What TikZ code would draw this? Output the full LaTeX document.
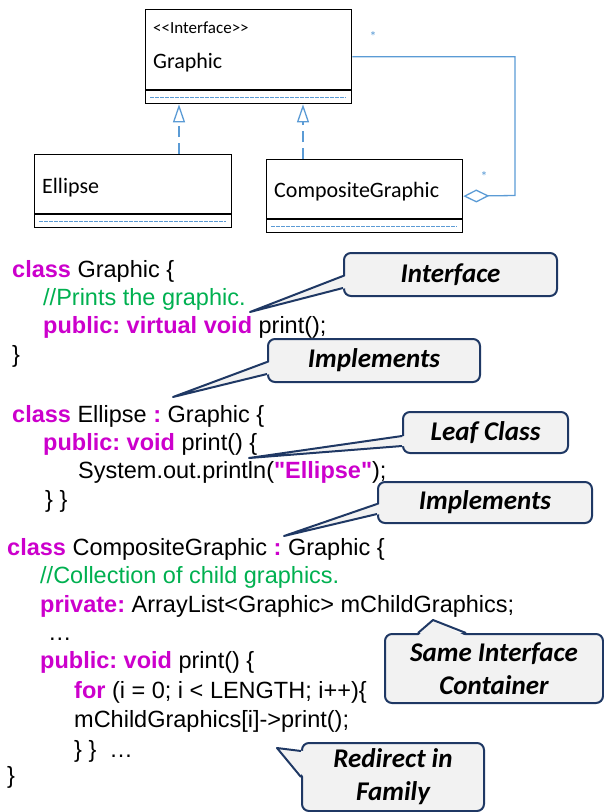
\documentclass[tikz,border=0pt]{standalone}
\usepackage{fontspec}
\setmainfont{Liberation Sans}
\newfontfamily\umlfont{Carlito}
\usetikzlibrary{arrows.meta}
\definecolor{kwc}{RGB}{204,0,204}
\definecolor{cmc}{RGB}{0,176,80}
\definecolor{umlblue}{RGB}{91,155,213}
\definecolor{coline}{RGB}{31,56,100}
\definecolor{cofill}{RGB}{242,242,242}
\newcommand{\kw}[1]{\textcolor{kwc}{\bfseries #1}}
\newcommand{\cm}[1]{\textcolor{cmc}{#1}}
\frenchspacing
\begin{document}
\begin{tikzpicture}[x=1pt,y=-1pt,
  umlbox/.style={draw=black,line width=1.3pt,inner sep=0pt,anchor=north west},
  umlsep/.style={draw=umlblue,line width=1pt,dash pattern=on 3.5pt off 1.5pt},
  umltext/.style={anchor=base west,inner sep=0pt,font=\umlfont\fontsize{22}{26}\selectfont},
  realize/.style={draw=umlblue,line width=1.3pt,dash pattern=on 11pt off 6pt,-{Triangle[open,length=18pt,width=12pt,line width=1.3pt]}},
  aggr/.style={draw=umlblue,line width=1.3pt,-{Diamond[open,length=26pt,width=13pt,line width=1.3pt]}},
  mult/.style={text=umlblue,inner sep=0pt,font=\umlfont\fontsize{14}{16}\selectfont},
  code/.style={anchor=base west,inner sep=0pt,font=\fontsize{23.5}{27}\selectfont},
  callout/.style={draw=coline,fill=cofill,line width=2pt,rounded corners=7pt,anchor=north west,inner sep=0pt,align=center,
    font=\umlfont\bfseries\itshape\fontsize{27}{33}\selectfont},
  cline/.style={draw=coline,line width=2pt,line join=round}
]
\useasboundingbox (0,0) rectangle (604,812);

% ---------- UML ----------
\node[umlbox,minimum width=206pt,minimum height=94pt] (graphicbox) at (145,9) {};
\draw[line width=1.3pt] (145,90) -- (351,90);
\draw[umlsep] (150,97) -- (346,97);
\node[umltext,font=\umlfont\fontsize{17}{20}\selectfont] (stereo) at (153,33) {<{}<Interface>{}>};
\node[umltext] (graphicname) at (153,68) {Graphic};

\node[umlbox,minimum width=197pt,minimum height=73pt] (ellipsebox) at (34,154) {};
\draw[line width=1.3pt] (34,214) -- (231,214);
\draw[umlsep] (39,221) -- (226,221);
\node[umltext] (ellipsename) at (42,193) {Ellipse};

\node[umlbox,minimum width=196pt,minimum height=73pt] (compbox) at (266,159) {};
\draw[line width=1.3pt] (266,219) -- (462,219);
\draw[umlsep] (271,226) -- (457,226);
\node[umltext] (compname) at (274,197) {CompositeGraphic};

\draw[realize] (ellipsebox.north -| 179,0) -- (graphicbox.south -| 179,0);
\draw[realize] (compbox.north -| 303,0) -- (graphicbox.south -| 303,0);

\coordinate (aggcorner) at (515,195.5);
\draw[aggr] (graphicbox.east) -| (aggcorner) -- (compbox.east);
\node[mult] (m1) at (373,37) {*};
\node[mult] (m2) at (484,177) {*};

% ---------- code ----------
\node[code] (l1) at (12,277) {\kw{class} Graphic \{};
\node[code] (l2) at (43,305) {\cm{//Prints the graphic.}};
\node[code] (l3) at (43,333) {\kw{public: virtual void} print();};
\node[code] (l4) at (12,362) {\}};

\node[code] (l5) at (12,422) {\kw{class} Ellipse \kw{:} Graphic \{};
\node[code] (l6) at (43,450) {\kw{public: void} print() \{};
\node[code] (l7) at (78,478) {System.out.println(\kw{\textquotedbl Ellipse\textquotedbl});};
\node[code] (l8) at (45,507) {\} \}};

\node[code] (l9) at (7,555) {\kw{class} CompositeGraphic \kw{:} Graphic \{};
\node[code] (l10) at (40,583) {\cm{//Collection of child graphics.}};
\node[code] (l11) at (40,612) {\kw{private:} ArrayList<Graphic> mChildGraphics;};
\node[code] (l12) at (48,640) {…};
\node[code] (l13) at (40,668) {\kw{public: void} print() \{};
\node[code] (l14) at (74,698) {\kw{for} (i = 0; i < LENGTH; i++)\{};
\node[code] (l15) at (74,727) {mChildGraphics[i]->print();};
\node[code] (l16) at (74,757) {\} \}\ \ …};
\node[code] (l17) at (7,783) {\}};

% ---------- callouts ----------
% Interface
\node[callout,minimum width=213pt,minimum height=43pt] (c1) at (343,252) {Interface};
\coordinate (t1) at (250,312);
\fill[cofill] (346,276) -- (t1) -- (346,288) -- cycle;
\draw[cline] (343,276) -- (t1) -- (343,288);
% Implements 1
\node[callout,minimum width=212pt,minimum height=43pt] (c2) at (267,338) {Implements};
\coordinate (t2) at (173,397);
\fill[cofill] (270,362) -- (t2) -- (270,374) -- cycle;
\draw[cline] (267,362) -- (t2) -- (267,374);
% Leaf class
\node[callout,minimum width=165pt,minimum height=41pt] (c3) at (402,411) {Leaf Class};
\coordinate (t3) at (249,458);
\fill[cofill] (405,436) -- (t3) -- (405,446) -- cycle;
\draw[cline] (402,436) -- (t3) -- (402,446);
% Implements 2
\node[callout,minimum width=214pt,minimum height=41pt] (c4) at (377,481) {Implements};
\coordinate (t4) at (284,536);
\fill[cofill] (380,504) -- (t4) -- (380,514) -- cycle;
\draw[cline] (377,504) -- (t4) -- (377,514);
% Same interface container
\node[callout,minimum width=218pt,minimum height=69pt] (c5) at (384,633) {Same Interface\\Container};
\coordinate (t5) at (433,620);
\fill[cofill] (418,636) -- (t5) -- (466,636) -- cycle;
\draw[cline] (418,633) -- (t5) -- (466,633);
% Redirect in family
\node[callout,minimum width=182pt,minimum height=68pt] (c6) at (301,742) {Redirect in\\Family};
\coordinate (t6) at (277,748);
\fill[cofill] (304,751) -- (t6) -- (304,777) -- cycle;
\draw[cline] (301,751) -- (t6) -- (301,777);
\end{tikzpicture}
\end{document}
